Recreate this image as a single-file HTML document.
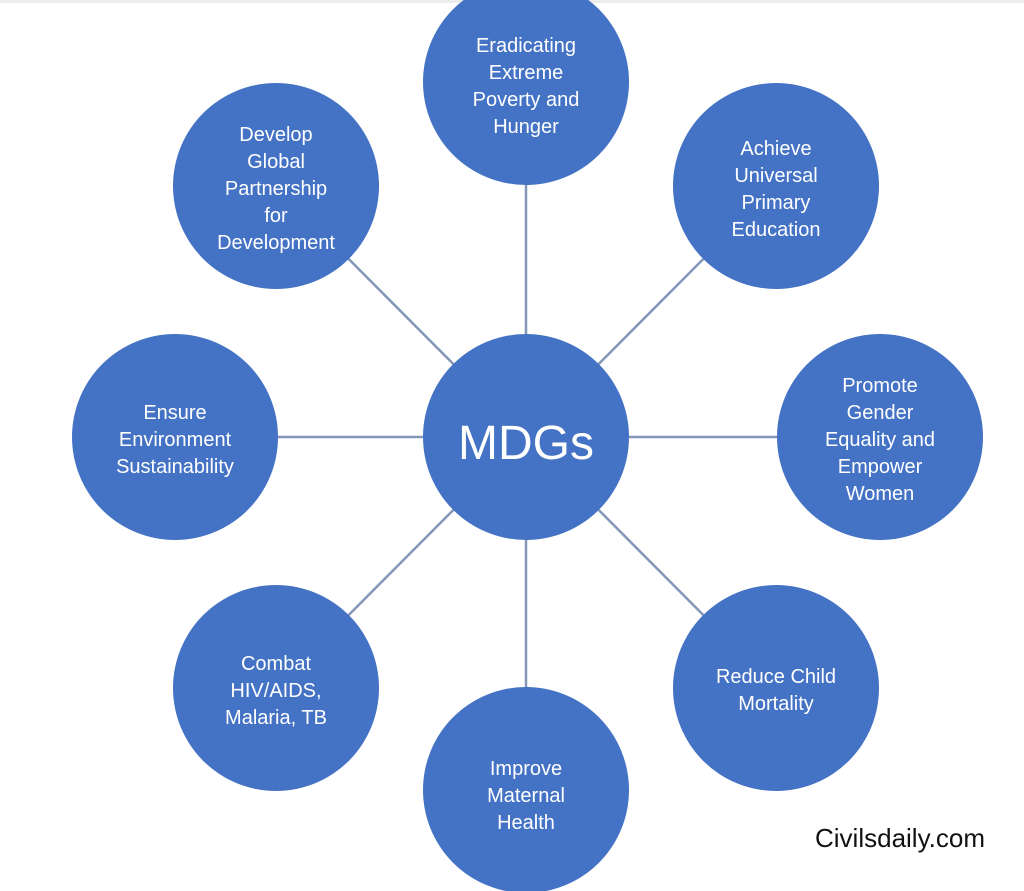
<!DOCTYPE html>
<html><head><meta charset="utf-8"><style>
html,body{margin:0;padding:0;background:#fff;width:1024px;height:891px;overflow:hidden}
text{font-family:"Liberation Sans","DejaVu Sans",sans-serif;fill:#fff;text-anchor:middle}
</style></head><body>
<svg width="1024" height="891" viewBox="0 0 1024 891" xmlns="http://www.w3.org/2000/svg">
<rect width="1024" height="891" fill="#fff"/>
<rect width="1024" height="3" fill="#ececec"/>
<g stroke="#8597b8" stroke-width="2.5">
<line x1="526" y1="437" x2="526" y2="82"/>
<line x1="526" y1="437" x2="776" y2="186"/>
<line x1="526" y1="437" x2="880" y2="437"/>
<line x1="526" y1="437" x2="776" y2="688"/>
<line x1="526" y1="437" x2="526" y2="790"/>
<line x1="526" y1="437" x2="276" y2="688"/>
<line x1="526" y1="437" x2="175" y2="437"/>
<line x1="526" y1="437" x2="276" y2="186"/>
</g>
<g fill="#4472C4">
<circle cx="526" cy="437" r="103"/>
<circle cx="526" cy="82" r="103"/>
<circle cx="776" cy="186" r="103"/>
<circle cx="880" cy="437" r="103"/>
<circle cx="776" cy="688" r="103"/>
<circle cx="526" cy="790" r="103"/>
<circle cx="276" cy="688" r="103"/>
<circle cx="175" cy="437" r="103"/>
<circle cx="276" cy="186" r="103"/>
</g>
<text x="526" y="459" font-size="48">MDGs</text>
<g font-size="20">
<text x="526" y="52">Eradicating</text><text x="526" y="79">Extreme</text><text x="526" y="106">Poverty and</text><text x="526" y="133">Hunger</text>
<text x="776" y="155">Achieve</text><text x="776" y="182">Universal</text><text x="776" y="209">Primary</text><text x="776" y="236">Education</text>
<text x="880" y="392">Promote</text><text x="880" y="419">Gender</text><text x="880" y="446">Equality and</text><text x="880" y="473">Empower</text><text x="880" y="500">Women</text>
<text x="776" y="683">Reduce Child</text><text x="776" y="710">Mortality</text>
<text x="526" y="775">Improve</text><text x="526" y="802">Maternal</text><text x="526" y="829">Health</text>
<text x="276" y="670">Combat</text><text x="276" y="697">HIV/AIDS,</text><text x="276" y="724">Malaria, TB</text>
<text x="175" y="419">Ensure</text><text x="175" y="446">Environment</text><text x="175" y="473">Sustainability</text>
<text x="276" y="141">Develop</text><text x="276" y="168">Global</text><text x="276" y="195">Partnership</text><text x="276" y="222">for</text><text x="276" y="249">Development</text>
</g>
<text x="900" y="847" font-size="26" style="fill:#111">Civilsdaily.com</text>
</svg>
</body></html>
